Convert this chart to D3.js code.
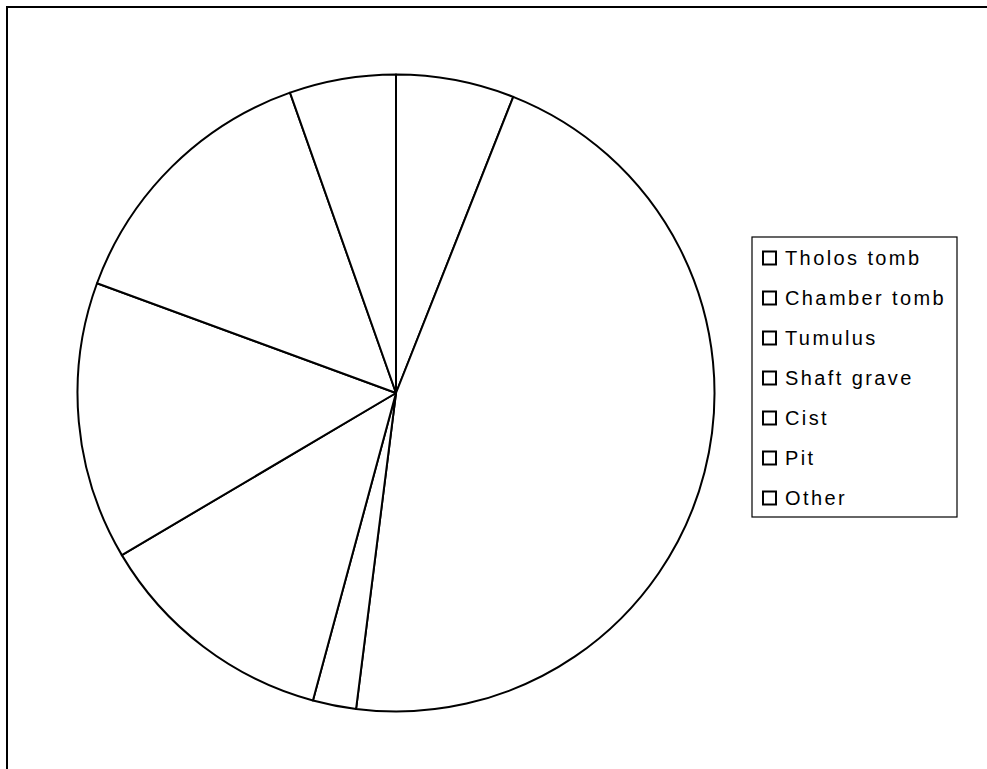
<!DOCTYPE html>
<html>
<head>
<meta charset="utf-8">
<script src="https://cdn.jsdelivr.net/npm/d3@7"></script>
<style>
  html, body { margin: 0; padding: 0; background: #fff; }
  svg { display: block; }
</style>
</head>
<body>
<div id="chart"></div>
<script>
// Burial types, share of the pie (clockwise from 12 o'clock)
const categories = ['Tholos tomb', 'Chamber tomb', 'Tumulus', 'Shaft grave', 'Cist', 'Pit', 'Other'];
const values = [6.0, 46.0, 2.2, 12.3, 14.1, 14.0, 5.4];

function renderPie(containerId) {
    const container = d3.select(`#${containerId}`);
    container.selectAll('*').remove();

    const width = 987;
    const height = 769;

    const svg = container.append('svg')
        .attr('width', width)
        .attr('height', height);

    // outer chart border (runs off the right/bottom edge)
    svg.append('rect')
        .attr('x', 7)
        .attr('y', 7)
        .attr('width', width + 20)
        .attr('height', height + 20)
        .attr('fill', 'none')
        .attr('stroke', '#000')
        .attr('stroke-width', 2);

    // pie
    const cx = 396, cy = 393, radius = 318.5;
    const data = categories.map((c, i) => ({ name: c, value: values[i] }));

    const pie = d3.pie()
        .value(d => d.value)
        .sort(null);

    const arc = d3.arc()
        .innerRadius(0)
        .outerRadius(radius);

    const g = svg.append('g')
        .attr('transform', `translate(${cx},${cy})`);

    g.selectAll('path')
        .data(pie(data))
        .enter()
        .append('path')
        .attr('d', arc)
        .attr('fill', '#fff')
        .attr('stroke', '#000')
        .attr('stroke-width', 2)
        .attr('stroke-linejoin', 'round');

    // legend
    const legend = svg.append('g')
        .attr('transform', 'translate(752, 237)');

    legend.append('rect')
        .attr('width', 205)
        .attr('height', 280)
        .attr('fill', '#fff')
        .attr('stroke', '#000')
        .attr('stroke-width', 1.2);

    categories.forEach((name, i) => {
        const row = legend.append('g')
            .attr('transform', `translate(0, ${20 + i * 40})`);

        row.append('rect')
            .attr('x', 11)
            .attr('y', -5.5)
            .attr('width', 13)
            .attr('height', 13)
            .attr('fill', '#fff')
            .attr('stroke', '#000')
            .attr('stroke-width', 2);

        row.append('text')
            .attr('x', 33)
            .attr('y', 7.5)
            .style('font-family', 'Arial, "Liberation Sans", sans-serif')
            .style('font-size', '20px')
            .style('letter-spacing', '2.4px')
            .attr('fill', '#000')
            .text(name);
    });
}

renderPie('chart');
</script>
</body>
</html>
